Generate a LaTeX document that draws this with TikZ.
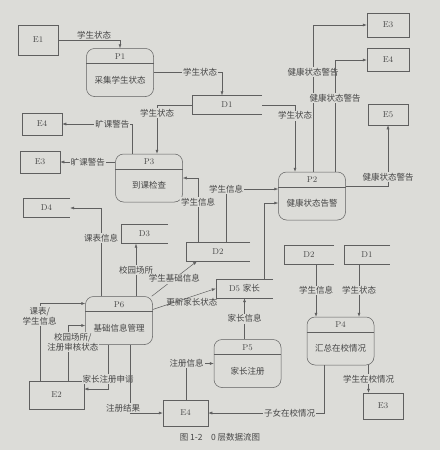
\documentclass[tikz,border=0pt]{standalone}
\usepackage{fontspec}
\newfontfamily\cjk{Noto Sans CJK SC}
\usetikzlibrary{calc,arrows.meta}
\definecolor{paper}{RGB}{220,220,216}
\definecolor{ink}{RGB}{70,70,70}
\definecolor{rule}{RGB}{95,95,95}
\newcommand\lfont{\fontsize{8.5}{10}\selectfont}
\newcommand\cfont{\cjk\fontsize{8.5}{10}\selectfont}
\tikzset{
  wire/.style={draw=rule, line width=0.5pt},
  flow/.style={wire, -{Latex[length=4pt,width=3pt]}},
  entity/.style={wire, rectangle, inner sep=0pt, font=\lfont, text=ink},
  procbox/.style={wire, rectangle, rounded corners=8pt, minimum width=67pt, minimum height=48pt},
  storebox/.style={rectangle, inner sep=0pt, minimum height=19pt, font=\lfont, text=ink},
  txt/.style={inner sep=0pt, text=ink},
  lbl/.style={font=\cfont, text=ink, fill=paper, inner sep=1pt, align=center},
}
% process: name, position, id, text
\newcommand\procnode[4]{%
  \node[procbox] (#1) at (#2) {};
  \draw[wire] ($(#1.north west)+(0,-15pt)$) -- ($(#1.north east)+(0,-15pt)$);
  \node[txt, font=\lfont] (#1-id) at ($(#1.north)+(0,-8pt)$) {#3};
  \node[txt, font=\cfont] (#1-txt) at ($(#1.center)+(0,-7.5pt)$) {#4};
}
% data store: name, position, width, text
\newcommand\storenode[4]{%
  \node[storebox, minimum width=#3] (#1) at (#2) {#4};
  \draw[wire] (#1.north east) -- (#1.north west) -- (#1.south west) -- (#1.south east);
}

\begin{document}
\begin{tikzpicture}[x=1pt, y=-1pt]
  %%%%% START %%%%%
  \fill[paper] (0,0) rectangle (440,450);
  \useasboundingbox (0,0) rectangle (440,450);

  % external entities
  \node[entity, minimum width=40pt, minimum height=30pt] (e1) at (38,40) {E1};
  \node[entity, minimum width=42pt, minimum height=24pt] (e3t) at (388,25) {E3};
  \node[entity, minimum width=42pt, minimum height=23pt] (e4t) at (388,60) {E4};
  \node[entity, minimum width=40pt, minimum height=21pt] (e5) at (388,114.5) {E5};
  \node[entity, minimum width=40pt, minimum height=22pt] (e4l) at (42,124) {E4};
  \node[entity, minimum width=40pt, minimum height=22pt] (e3l) at (40,162) {E3};
  \node[entity, minimum width=55pt, minimum height=28pt] (e2) at (56.5,395) {E2};
  \node[entity, minimum width=45pt, minimum height=26pt] (e4b) at (185.5,413) {E4};
  \node[entity, minimum width=40pt, minimum height=26pt] (e3b) at (383,406) {E3};

  % processes
  \procnode{p1}{120,72.5}{P1}{采集学生状态}
  \procnode{p2}{312,196}{P2}{健康状态告警}
  \procnode{p3}{149,178}{P3}{到课检查}
  \procnode{p6}{119,320.5}{P6}{基础信息管理}
  \procnode{p5}{247.5,363.5}{P5}{家长注册}
  \procnode{p4}{340.5,341}{P4}{汇总在校情况}

  % data stores
  \storenode{d1t}{227,105}{70pt}{D1}
  \storenode{d4}{46.5,208}{47pt}{D4}
  \storenode{d3}{144.5,234}{47pt}{D3}
  \storenode{d2l}{218,251.5}{64pt}{D2}
  \storenode{d5}{244.5,288.5}{57pt}{D5 {\cjk 家长}}
  \storenode{d2r}{309,254.5}{50pt}{D2}
  \storenode{d1r}{367,254.5}{46pt}{D1}

  % flows
  \draw[flow] (e1.east) -| node[lbl, pos=0.29, above] {学生状态} (p1.north);
  \draw[flow] (p1.east) -| node[lbl, pos=0.34] {学生状态} ($(d1t.north)+(-5pt,0)$);
  \draw[flow] (d1t.west) -| node[lbl, pos=0.58] {学生状态} ($(p3.north)+(8pt,0)$);
  \draw[flow] (d1t.east) -| node[lbl, pos=0.58] {学生状态} ($(p2.north)+(-17pt,0)$);

  \draw[flow] ($(p2.north)+(1pt,0)$) |- node[lbl, pos=0.34] {健康状态警告} (e3t.west);
  \draw[flow] ($(p2.north)+(23pt,0)$) |- node[lbl, pos=0.33] {健康状态警告} (e4t.west);
  \draw[flow] ($(p2.north east)+(0,-14pt)$) -| node[lbl, pos=0.57] {健康状态警告} (e5.south);

  \draw[flow] ($(p3.north)+(-17pt,0)$) |- node[lbl, pos=0.64] {旷课警告} (e4l.east);
  \draw[flow] (p3.west |- e3l.east) -- node[lbl, pos=0.5] {旷课警告} (e3l.east);

  \draw[flow] ($(d2l.north)+(-20pt,0)$) |- node[lbl, pos=0.31] {学生信息} (p3.east);
  \draw[flow] ($(d2l.north)+(8pt,0)$) |- node[lbl, pos=0.5] {学生信息} ($(p2.west)+(0,7pt)$);
  \draw[flow] ($(d5.north east)+(-9pt,0)$) |- ($(p2.west)+(0,-7pt)$);

  \coordinate (p6d4) at ($(p6.north)+(-18pt,0)$);
  \coordinate (p6d3) at ($(p6.north)+(17pt,0)$);
  \draw[flow] (p6d4) |- node[lbl, pos=0.33] {课表信息} (d4.east);
  \draw[flow] (p6d3) -- node[lbl, pos=0.5] {校园场所} (p6d3 |- d3.south);
  \draw[flow] ($(p6.north east)+(-1pt,0)$) -- node[lbl, pos=0.5] {学生基础信息} ($(d2l.south)+(-21pt,0)$);
  \draw[flow] ($(p6.east)+(0,11pt)$) -- node[lbl, pos=0.62, below=0.5pt, fill=none] {更新家长状态} (d5.west);

  \draw[flow] ($(e2.north west)+(11pt,0)$) |- node[lbl, pos=0.42] {课表/\\学生信息} ($(p6.west)+(0,17pt)$);
  \draw[flow] ($(e2.north west)+(39pt,0)$) |- node[lbl, pos=0.35, xshift=5pt] {校园场所/\\注册审核状态} ($(p6.west)+(0,-5pt)$);
  \draw[flow] ($(p6.south)+(-11pt,0)$) |- node[lbl, pos=0.39] {家长注册申请} ($(e2.east)+(0,6pt)$);
  \draw[flow] ($(p6.south)+(11pt,0)$) |- node[lbl, pos=0.5, above, xshift=-7pt] {注册结果} (e4b.west);

  \draw[flow] ($(e4b.north)+(1pt,0)$) |- node[lbl, pos=0.5] {注册信息} (p5.west);
  \coordinate (p5d5) at ($(p5.north)+(-3pt,0)$);
  \draw[flow] (p5d5) -- node[lbl, pos=0.5] {家长信息} (p5d5 |- d5.south);

  \coordinate (d2p4) at ($(d2r.south)+(7pt,0)$);
  \coordinate (d1p4) at ($(d1r.south)+(-8pt,0)$);
  \draw[flow] (d2p4) -- node[lbl, pos=0.5] {学生信息} (d2p4 |- p4.north);
  \draw[flow] (d1p4) -- node[lbl, pos=0.5] {学生状态} (d1p4 |- p4.north);

  \coordinate (p4e3) at ($(p4.south)+(28pt,0)$);
  \draw[flow] (p4e3) -- node[lbl, pos=0.5] {学生在校情况} (p4e3 |- e3b.north);
  \draw[flow] ($(p4.south)+(-16pt,0)$) |- node[lbl, pos=0.65] {子女在校情况} (e4b.east);

  % caption
  \node[txt, font=\cfont] (caption) at (220,437) {图 1-2\quad 0 层数据流图};
  %%%%% END %%%%%
\end{tikzpicture}
\end{document}
